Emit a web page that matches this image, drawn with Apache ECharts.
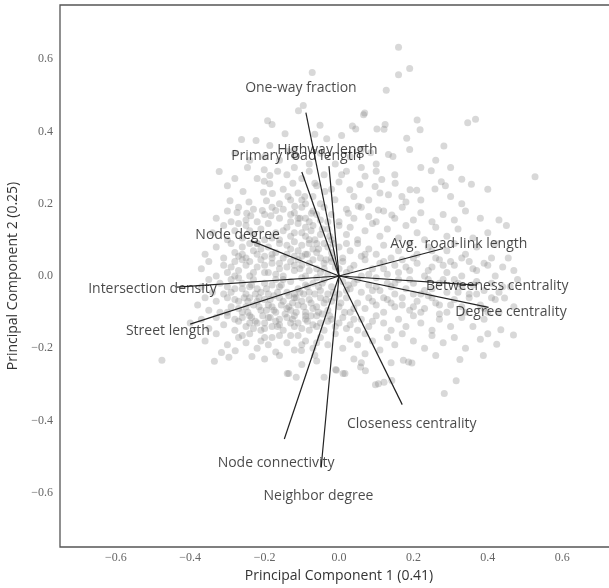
<!DOCTYPE html>
<html>
<head>
<meta charset="utf-8">
<script src="https://cdn.jsdelivr.net/npm/echarts@6/dist/echarts.min.js"></script>
<style>html,body{margin:0;padding:0;background:#fff;}#chart{width:609px;height:588px;}</style>
</head>
<body>
<div id="chart"></div>
<script>
// Loading vectors (PC1, PC2)
const vectorNames = ["One-way fraction","Highway length","Primary road length","Node degree","Avg.  road-link length","Intersection density","Street length","Betweeness centrality","Degree centrality","Node connectivity","Neighbor degree","Closeness centrality"];
const loadingsPC1 = [-0.089,-0.027,-0.100,-0.237,0.280,-0.436,-0.400,0.370,0.402,-0.147,-0.048,0.170];
const loadingsPC2 = [0.452,0.304,0.288,0.098,0.076,-0.031,-0.133,-0.025,-0.087,-0.451,-0.530,-0.356];
const labelScale = 1.15;

const xTicks = [-0.6,-0.4,-0.2,0.0,0.2,0.4,0.6];
const yTicks = [-0.6,-0.4,-0.2,0.0,0.2,0.4,0.6];
const xTitle = "Principal Component 1 (0.41)";
const yTitle = "Principal Component 2 (0.25)";

// Sample scores (PC1, PC2)
const scorePoints = [
[0.16,0.633],[-0.072,0.563],[0.16,0.557],[0.19,0.574],[0.127,0.514],[-0.096,0.472],[-0.109,0.457],[0.069,0.451],[0.066,0.446],[0.367,0.434],[0.346,0.424],[0.21,0.432],[0.218,0.405],[-0.192,0.43],[-0.18,0.419],[-0.223,0.375],[-0.262,0.378],[-0.186,0.361],[0.036,0.415],[0.045,0.407],[0.102,0.407],[0.121,0.406],[0.124,0.419],[-0.051,0.417],[-0.145,0.394],[-0.065,0.392],[-0.033,0.38],[0.007,0.389],[0.182,0.381],[0.19,0.35],[0.133,0.336],[0.145,0.331],[0.085,0.341],[-0.137,0.345],[0.282,0.36],[0.248,0.291],[0.527,0.275],[0.33,0.268],[0.356,0.254],[0.275,0.261],[0.286,0.25],[0.258,0.241],[0.209,0.237],
[-0.322,0.289],[-0.246,0.3],[-0.201,0.294],[-0.186,0.278],[-0.165,0.29],[-0.201,0.262],[-0.186,0.255],[-0.258,0.234],[-0.203,0.232],[-0.179,0.228],[-0.293,0.208],[-0.242,0.205],[-0.195,0.208],[-0.274,0.176],[-0.248,0.174],[-0.206,0.181],[-0.17,0.181],[-0.237,0.167],[-0.183,0.167],
[-0.119,0.331],[-0.124,0.257],[-0.065,0.257],[0.007,0.28],[0.029,0.239],[0.056,0.253],[0.07,0.276],[0.097,0.248],[0.115,0.267],[0.133,0.225],[0.151,0.257],[0.169,0.22],[0.191,0.239],[0.052,0.193],[0.106,0.183],[0.142,0.169],[0.025,0.174],[-0.011,0.211],[-0.038,0.234],[-0.092,0.22],[-0.119,0.193],[-0.137,0.22],[-0.074,0.174],
[-0.14,0.28],[-0.12,0.3],[-0.1,0.27],[-0.08,0.29],[-0.06,0.25],[-0.04,0.28],[-0.02,0.24],[0.0,0.26],[0.02,0.29],[0.04,0.22],[-0.15,0.24],[-0.13,0.21],[-0.11,0.23],[-0.09,0.2],[-0.16,0.2],[-0.3,0.25],[-0.28,0.27],[-0.22,0.27],[0.08,0.21],[0.11,0.23],[0.18,0.205],[0.22,0.21],[0.3,0.22],[0.33,0.2],[0.4,0.24],[0.22,0.3],[0.26,0.32],[0.3,0.3],[0.15,0.28],[0.1,0.29],[0.06,0.3],
[-0.2,0.33],[-0.16,0.32],[-0.12,0.35],[-0.08,0.31],[-0.05,0.34],[-0.01,0.31],[0.03,0.33],[0.06,0.35],[0.1,0.31],[-0.24,0.32],[-0.28,0.34],
[-0.33,0.16],[-0.3,0.18],[-0.29,0.15],[-0.27,0.19],[-0.25,0.155],[-0.23,0.185],[-0.22,0.15],[-0.2,0.17],[-0.18,0.19],[-0.16,0.16],[-0.15,0.185],[-0.13,0.15],[-0.12,0.175],[-0.1,0.19],[-0.09,0.16],[-0.07,0.18],[-0.05,0.155],[-0.04,0.19],[-0.02,0.17],[0.0,0.15],[0.02,0.185],[0.04,0.16],[0.06,0.19],[0.08,0.165],[0.1,0.15],[0.12,0.18],[0.15,0.16],[0.17,0.19],[0.2,0.155],[0.22,0.175],[0.25,0.15],[0.28,0.17],[0.31,0.155],[0.34,0.18],[0.38,0.16],[0.43,0.155],
[-0.34,0.12],[-0.31,0.14],[-0.3,0.1],[-0.28,0.125],[-0.26,0.105],[-0.25,0.14],[-0.23,0.115],[-0.21,0.13],[-0.2,0.1],[-0.19,0.145],[-0.17,0.12],[-0.16,0.1],[-0.14,0.135],[-0.13,0.11],[-0.11,0.145],[-0.1,0.12],[-0.08,0.1],[-0.07,0.14],[-0.05,0.115],[-0.03,0.13],[-0.02,0.1],[0.0,0.14],[0.02,0.115],[0.03,0.135],[0.05,0.1],[0.07,0.125],[0.09,0.145],[0.11,0.11],[0.13,0.13],[0.16,0.105],[0.18,0.14],[0.21,0.12],[0.23,0.1],[0.26,0.135],[0.29,0.11],[0.32,0.13],[0.36,0.105],[0.4,0.12],[0.45,0.14],
[-0.27,0.145],[-0.22,0.09],[-0.15,0.125],[-0.12,0.095],[-0.09,0.135],[-0.06,0.09],[-0.24,0.125],[-0.18,0.105],
[-0.36,0.06],[-0.33,0.08],[-0.31,0.05],[-0.29,0.09],[-0.28,0.065],[-0.26,0.08],[-0.25,0.05],[-0.23,0.07],[-0.22,0.09],[-0.2,0.055],[-0.19,0.08],[-0.17,0.065],[-0.16,0.09],[-0.15,0.05],[-0.13,0.075],[-0.12,0.055],[-0.1,0.085],[-0.09,0.06],[-0.07,0.075],[-0.05,0.05],[-0.04,0.09],[-0.02,0.065],[0.0,0.08],[0.01,0.05],[0.03,0.07],[0.05,0.09],[0.06,0.055],[0.08,0.075],[0.1,0.06],[0.12,0.085],[0.14,0.05],[0.16,0.07],[0.19,0.09],[0.21,0.06],[0.24,0.08],[0.26,0.05],[0.29,0.07],[0.31,0.09],[0.34,0.06],[0.37,0.08],[0.41,0.05],[0.455,0.05],[0.42,0.09],
[-0.27,0.055],[-0.24,0.09],[-0.21,0.075],[-0.18,0.06],[-0.14,0.085],[-0.11,0.07],[-0.08,0.09],[-0.03,0.08],[0.02,0.09],[0.07,0.06],
[-0.37,0.02],[-0.35,0.04],[-0.33,0.0],[-0.31,0.03],[-0.3,0.01],[-0.28,0.04],[-0.27,0.015],[-0.25,0.03],[-0.24,0.0],[-0.22,0.025],[-0.21,0.045],[-0.19,0.01],[-0.18,0.035],[-0.16,0.02],[-0.15,0.0],[-0.13,0.04],[-0.12,0.015],[-0.1,0.03],[-0.09,0.0],[-0.07,0.045],[-0.06,0.02],[-0.04,0.035],[-0.03,0.005],[-0.01,0.025],[0.01,0.04],[0.02,0.01],[0.04,0.03],[0.06,0.0],[0.07,0.045],[0.09,0.02],[0.11,0.035],[0.13,0.005],[0.15,0.03],[0.17,0.045],[0.19,0.015],[0.21,0.035],[0.23,0.0],[0.25,0.025],[0.27,0.045],[0.29,0.01],[0.31,0.03],[0.33,0.0],[0.35,0.04],[0.37,0.015],[0.39,0.035],[0.42,0.0],[0.44,0.025],[0.47,0.015],
[-0.29,0.025],[-0.26,0.045],[-0.23,0.01],[-0.2,0.03],[-0.17,0.005],[-0.14,0.025],[-0.11,0.045],[-0.08,0.015],[-0.05,0.01],[-0.02,0.04],[0.03,0.02],[0.08,0.005],[0.12,0.02],[0.18,0.025],[0.24,0.015],[0.3,0.04],
[-0.37,-0.03],[-0.35,-0.01],[-0.34,-0.045],[-0.32,-0.02],[-0.31,-0.05],[-0.29,-0.01],[-0.28,-0.035],[-0.26,-0.02],[-0.25,-0.05],[-0.23,-0.01],[-0.22,-0.035],[-0.2,-0.02],[-0.19,-0.05],[-0.17,-0.01],[-0.16,-0.03],[-0.14,-0.045],[-0.13,-0.015],[-0.11,-0.035],[-0.1,-0.005],[-0.08,-0.045],[-0.07,-0.02],[-0.05,-0.04],[-0.04,-0.01],[-0.02,-0.03],[0.0,-0.05],[0.01,-0.015],[0.03,-0.035],[0.05,-0.01],[0.06,-0.045],[0.08,-0.025],[0.1,-0.005],[0.11,-0.04],[0.13,-0.02],[0.15,-0.05],[0.16,-0.01],[0.18,-0.035],[0.2,-0.02],[0.22,-0.05],[0.24,-0.01],[0.25,-0.035],[0.27,-0.02],[0.29,-0.045],[0.31,-0.01],[0.33,-0.03],[0.35,-0.05],[0.37,-0.015],[0.39,-0.04],[0.41,-0.02],[0.43,-0.045],[0.46,-0.03],[0.48,-0.01],
[-0.3,-0.03],[-0.27,-0.005],[-0.24,-0.03],[-0.21,-0.045],[-0.18,-0.025],[-0.15,-0.01],[-0.12,-0.05],[-0.09,-0.025],[-0.06,-0.005],[-0.03,-0.05],[0.02,-0.04],[0.04,-0.02],[0.09,-0.04],[0.14,-0.03],[0.19,-0.01],[0.23,-0.04],[0.28,-0.01],[0.32,-0.045],[0.36,-0.025],
[-0.38,-0.08],[-0.36,-0.06],[-0.35,-0.095],[-0.33,-0.07],[-0.32,-0.1],[-0.3,-0.06],[-0.29,-0.085],[-0.27,-0.07],[-0.26,-0.1],[-0.24,-0.06],[-0.23,-0.08],[-0.21,-0.095],[-0.2,-0.065],[-0.18,-0.085],[-0.17,-0.1],[-0.15,-0.07],[-0.14,-0.09],[-0.12,-0.06],[-0.11,-0.08],[-0.09,-0.1],[-0.08,-0.065],[-0.06,-0.085],[-0.05,-0.06],[-0.03,-0.095],[-0.02,-0.07],[0.0,-0.085],[0.02,-0.06],[0.03,-0.1],[0.05,-0.075],[0.07,-0.09],[0.08,-0.06],[0.1,-0.08],[0.12,-0.1],[0.13,-0.065],[0.15,-0.085],[0.17,-0.06],[0.19,-0.095],[0.21,-0.07],[0.23,-0.09],[0.25,-0.06],[0.27,-0.08],[0.29,-0.1],[0.31,-0.065],[0.33,-0.085],[0.35,-0.06],[0.38,-0.08],[0.4,-0.1],[0.42,-0.065],[0.445,-0.061],[0.47,-0.085],
[-0.28,-0.065],[-0.25,-0.085],[-0.22,-0.07],[-0.19,-0.08],[-0.16,-0.06],[-0.13,-0.095],[-0.1,-0.07],[-0.07,-0.09],[-0.04,-0.075],[-0.01,-0.06],[0.04,-0.09],[0.09,-0.07],[0.14,-0.075],[0.2,-0.085],[0.26,-0.075],
[-0.4,-0.13],[-0.37,-0.12],[-0.35,-0.145],[-0.33,-0.115],[-0.31,-0.135],[-0.3,-0.11],[-0.28,-0.15],[-0.27,-0.125],[-0.25,-0.14],[-0.24,-0.11],[-0.22,-0.13],[-0.21,-0.15],[-0.19,-0.115],[-0.18,-0.14],[-0.16,-0.12],[-0.15,-0.15],[-0.13,-0.13],[-0.12,-0.11],[-0.1,-0.145],[-0.09,-0.12],[-0.07,-0.135],[-0.06,-0.11],[-0.04,-0.15],[-0.03,-0.125],[-0.01,-0.14],[0.01,-0.115],[0.03,-0.135],[0.05,-0.15],[0.06,-0.12],[0.08,-0.14],[0.1,-0.11],[0.12,-0.13],[0.14,-0.15],[0.16,-0.12],[0.18,-0.14],[0.2,-0.11],[0.22,-0.13],[0.25,-0.15],[0.27,-0.12],[0.3,-0.14],[0.33,-0.115],[0.36,-0.14],[0.39,-0.12],[0.435,-0.149],[0.469,-0.163],
[-0.26,-0.115],[-0.23,-0.145],[-0.2,-0.13],[-0.17,-0.125],[-0.14,-0.115],[-0.11,-0.13],[-0.08,-0.15],[-0.05,-0.13],[0.0,-0.13],[0.04,-0.12],[0.09,-0.125],
[-0.36,-0.18],[-0.33,-0.16],[-0.316,-0.212],[-0.3,-0.19],[-0.279,-0.207],[-0.27,-0.17],[-0.25,-0.185],[-0.24,-0.16],[-0.234,-0.223],[-0.22,-0.2],[-0.2,-0.17],[-0.19,-0.19],[-0.17,-0.21],[-0.16,-0.165],[-0.14,-0.185],[-0.12,-0.205],[-0.11,-0.165],[-0.09,-0.18],[-0.07,-0.2],[-0.05,-0.17],[-0.03,-0.19],[-0.01,-0.16],[0.01,-0.2],[0.03,-0.175],[0.05,-0.19],[0.07,-0.16],[0.09,-0.18],[0.11,-0.205],[0.13,-0.17],[0.15,-0.19],[0.17,-0.16],[0.2,-0.18],[0.23,-0.2],[0.25,-0.165],[0.28,-0.185],[0.31,-0.17],[0.34,-0.2],[0.38,-0.175],[0.424,-0.189],[0.4,-0.16],
[-0.26,-0.165],[-0.21,-0.18],[-0.18,-0.17],[-0.13,-0.165],[-0.1,-0.19],[-0.06,-0.185],
[-0.476,-0.233],[-0.335,-0.236],[-0.296,-0.225],[-0.2,-0.23],[-0.16,-0.22],[-0.135,-0.27],[-0.1,-0.245],[-0.06,-0.235],[-0.009,-0.259],[0.011,-0.27],[0.04,-0.23],[0.071,-0.262],[0.098,-0.301],[0.121,-0.294],[0.173,-0.233],[0.196,-0.241],[0.26,-0.22],[0.325,-0.231],[0.388,-0.22],[0.315,-0.29],[0.283,-0.325],[0.14,-0.24],[-0.04,-0.28],[0.06,-0.24],
[-0.139,-0.27],[-0.115,-0.28],[-0.007,-0.261],[0.016,-0.27],[0.058,-0.252],[0.106,-0.298],[0.142,-0.289],[0.187,-0.238],[0.07,-0.215],[-0.065,-0.219],[-0.101,-0.206],
[-0.29,-0.045],[-0.27,-0.09],[-0.26,-0.035],[-0.245,-0.07],[-0.235,-0.115],[-0.225,-0.05],[-0.215,-0.085],[-0.205,-0.11],[-0.195,-0.035],[-0.185,-0.065],[-0.175,-0.095],[-0.165,-0.045],[-0.155,-0.08],[-0.145,-0.105],[-0.135,-0.055],[-0.125,-0.075],[-0.115,-0.1],[-0.105,-0.045],[-0.095,-0.085],[-0.085,-0.03],[-0.075,-0.11],[-0.065,-0.05],[-0.055,-0.1],[-0.045,-0.02],[-0.035,-0.065],[-0.025,-0.11],[-0.015,-0.045],[0.005,-0.075],[0.015,-0.1],[0.025,-0.025],
[-0.3,-0.1],[-0.28,-0.12],[-0.24,-0.13],[-0.2,-0.145],[-0.16,-0.135],[-0.12,-0.14],[-0.09,-0.11],[-0.06,-0.14],[-0.02,-0.12],[0.02,-0.145],
[-0.28,0.0],[-0.26,0.06],[-0.24,0.04],[-0.22,0.06],[-0.2,0.01],[-0.18,0.05],[-0.16,0.035],[-0.14,0.06],[-0.12,0.03],[-0.1,0.055],[-0.08,0.035],[-0.06,0.065],[-0.04,0.02],[-0.02,0.05],[0.0,0.02],
[-0.13,0.17],[-0.11,0.16],[-0.08,0.15],[-0.06,0.17],[-0.03,0.15],[-0.1,0.21],[-0.07,0.22],[-0.05,0.2],[-0.12,0.12],[-0.09,0.11],
[0.1,-0.03],[0.12,-0.06],[0.15,-0.02],[0.17,-0.08],[0.2,-0.05],[0.22,-0.1],[0.24,-0.055],[0.27,-0.105],[0.3,-0.08],[0.32,-0.02],[0.34,-0.1],[0.37,-0.05],[0.39,-0.09],[0.41,-0.06],[0.43,-0.1],[0.44,-0.03],
[0.12,0.04],[0.16,0.01],[0.2,0.05],[0.25,0.07],[0.28,0.03],[0.33,0.05],[0.36,0.02],[0.4,0.03],
[-0.255,-0.06],[-0.235,-0.025],[-0.215,-0.06],[-0.195,-0.095],[-0.175,-0.055],[-0.155,-0.025],[-0.135,-0.085],[-0.115,-0.06],[-0.095,-0.05],[-0.075,-0.075],[-0.055,-0.03],[-0.245,-0.1],[-0.225,-0.125],[-0.185,-0.115],[-0.165,-0.14],[-0.125,-0.12],[-0.085,-0.125],[-0.045,-0.105],
[-0.105,0.02],[-0.085,0.06],[-0.065,0.1],[-0.045,0.13],[-0.025,0.11],[-0.105,0.16],[-0.075,0.125],[-0.035,0.045],[-0.015,0.09],[-0.055,0.075]
];

const fmt = v => (v < 0 ? '\u2212' : '') + Math.abs(v).toFixed(1);

const vectorLines = vectorNames.map((n, i) => ({ coords: [[0, 0], [loadingsPC1[i], loadingsPC2[i]]] }));
const vectorLabels = vectorNames.map((n, i) => ({ name: n, value: [loadingsPC1[i] * labelScale, loadingsPC2[i] * labelScale] }));

const chart = echarts.init(document.getElementById('chart'), null, { renderer: 'canvas' });
const sansFont = 'Open Sans';
const serifFont = 'Liberation Serif';
chart.setOption({
  animation: false,
  backgroundColor: '#ffffff',
  grid: { left: 60, top: 5, width: 558, height: 542, outerBoundsMode: 'none', containLabel: false, show: true, borderColor: '#555555', borderWidth: 1.3, backgroundColor: 'transparent' },
  xAxis: {
    type: 'value', min: -0.75, max: 0.75,
    name: xTitle, nameLocation: 'middle', nameGap: 22,
    nameTextStyle: { fontFamily: sansFont, fontSize: 14, color: '#333' },
    axisLine: { show: false }, axisTick: { show: false }, splitLine: { show: false },
    axisLabel: { customValues: xTicks, formatter: fmt, fontFamily: serifFont, fontSize: 12, color: '#666', margin: 5 }
  },
  yAxis: {
    type: 'value', min: -0.75, max: 0.75,
    name: yTitle, nameLocation: 'middle', nameGap: 35,
    nameTextStyle: { fontFamily: sansFont, fontSize: 14, color: '#333' },
    axisLine: { show: false }, axisTick: { show: false }, splitLine: { show: false },
    axisLabel: { customValues: yTicks, formatter: fmt, fontFamily: serifFont, fontSize: 12, color: '#666', margin: 7 }
  },
  series: [
    {
      type: 'scatter', data: scorePoints, symbolSize: 7, silent: true,
      itemStyle: { color: '#7f7f7f', opacity: 0.3 }, z: 1
    },
    {
      type: 'lines', coordinateSystem: 'cartesian2d', data: vectorLines, silent: true,
      lineStyle: { color: '#222222', width: 1.2, opacity: 1 }, z: 3
    },
    {
      type: 'scatter', data: vectorLabels, symbolSize: 0, silent: true, z: 4,
      label: {
        show: true, formatter: p => p.name, position: [0, 0], align: 'center', verticalAlign: 'middle',
        fontFamily: sansFont, fontSize: 14, color: '#1a1a1a'
      }
    }
  ]
});
</script>
</body>
</html>
